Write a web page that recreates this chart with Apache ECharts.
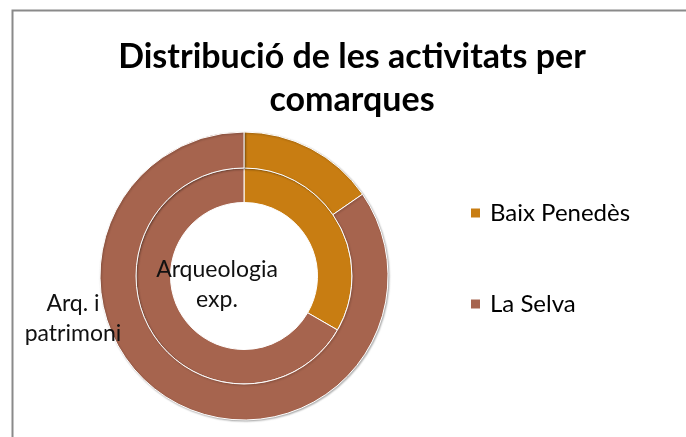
<!DOCTYPE html>
<html>
<head>
<meta charset="utf-8">
<script src="https://cdn.jsdelivr.net/npm/echarts@6/dist/echarts.min.js"></script>
<style>
  html, body { margin: 0; padding: 0; background: #fff; }
  #chart { width: 686px; height: 437px; }
</style>
</head>
<body>
<div id="chart"></div>
<script>
const comarques = ['Baix Penedès', 'La Selva']
const arqueologiaExp = [1, 2]
const arqPatrimoni = [2, 11]
const serieNames = ['Arqueologia exp.', 'Arq. i patrimoni']
const serieLabels = ['Arqueologia\nexp.', 'Arq. i\npatrimoni']
const colors = ['#C87D12', '#A6644E']

const chart = echarts.init(document.getElementById('chart'))

const labelStyle = {
  fontFamily: 'Lato',
  fontSize: 23,
  lineHeight: 30,
  color: '#111'
}

function toData(values, labelIdx, text) {
  return comarques.map((name, i) => ({
    name,
    value: values[i],
    label: i === labelIdx
      ? { show: true, position: 'center', formatter: text, ...labelStyle }
      : { show: false }
  }))
}

chart.setOption({
  animation: false,
  color: colors,
  title: {
    text: 'Distribució de les activitats per\ncomarques',
    left: 352,
    top: 36,
    padding: 0,
    textAlign: 'center',
    textStyle: {
      fontFamily: 'Lato',
      fontWeight: 'bold',
      fontSize: 34,
      lineHeight: 43,
      color: '#000'
    }
  },
  legend: {
    orient: 'vertical',
    left: 469,
    top: 201,
    padding: 0,
    icon: 'rect',
    itemWidth: 11,
    itemHeight: 11,
    itemGap: 67,
    data: comarques,
    textStyle: {
      fontFamily: 'Lato',
      fontSize: 24,
      lineHeight: 24,
      color: '#000',
      padding: [0, 0, 0, 4]
    }
  },
  graphic: [{
    type: 'polyline',
    shape: { points: [[12.5, 437], [12.5, 10.5], [686, 10.5]] },
    style: { stroke: '#8a8a8a', lineWidth: 2, fill: null },
    silent: true
  }],
  series: [
    {
      type: 'pie',
      name: serieNames[0],
      center: [244, 276],
      radius: [73.5, 108],
      startAngle: 90,
      silent: true,
      labelLine: { show: false },
      labelLayout: { dx: -27, dy: 9 },
      itemStyle: { borderColor: '#fff', borderWidth: 1 },
      data: toData(arqueologiaExp, 1, serieLabels[0])
    },
    {
      type: 'pie',
      name: serieNames[1],
      center: [244, 276],
      radius: [108, 144],
      startAngle: 90,
      silent: true,
      labelLine: { show: false },
      labelLayout: { dx: -171, dy: 43 },
      itemStyle: {
        borderColor: '#fff',
        borderWidth: 1,
        shadowColor: 'rgba(0,0,0,0.3)',
        shadowBlur: 2,
        shadowOffsetX: 1,
        shadowOffsetY: 1
      },
      data: toData(arqPatrimoni, 1, serieLabels[1])
    }
  ]
})
</script>
</body>
</html>
